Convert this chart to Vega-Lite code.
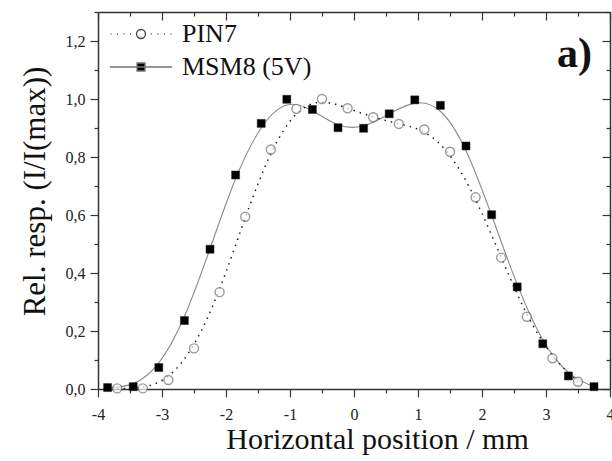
{
  "$schema": "https://vega.github.io/schema/vega-lite/v6.json",
  "width": 512,
  "height": 377,
  "autosize": {"type": "none"},
  "padding": {"left": 98, "top": 12, "right": 2, "bottom": 72},
  "background": "white",
  "config": {"view": {"stroke": null}, "font": "Liberation Serif"},
  "data": {"values": [
    {"series": "PIN7", "x": -3.7, "y": 0.002},
    {"series": "PIN7", "x": -3.3, "y": 0.002},
    {"series": "PIN7", "x": -2.9, "y": 0.031},
    {"series": "PIN7", "x": -2.5, "y": 0.140},
    {"series": "PIN7", "x": -2.1, "y": 0.334},
    {"series": "PIN7", "x": -1.7, "y": 0.594},
    {"series": "PIN7", "x": -1.3, "y": 0.826},
    {"series": "PIN7", "x": -0.9, "y": 0.966},
    {"series": "PIN7", "x": -0.5, "y": 1.0},
    {"series": "PIN7", "x": -0.1, "y": 0.968},
    {"series": "PIN7", "x": 0.3, "y": 0.937},
    {"series": "PIN7", "x": 0.7, "y": 0.914},
    {"series": "PIN7", "x": 1.1, "y": 0.895},
    {"series": "PIN7", "x": 1.5, "y": 0.818},
    {"series": "PIN7", "x": 1.9, "y": 0.661},
    {"series": "PIN7", "x": 2.3, "y": 0.453},
    {"series": "PIN7", "x": 2.7, "y": 0.249},
    {"series": "PIN7", "x": 3.1, "y": 0.106},
    {"series": "PIN7", "x": 3.5, "y": 0.025},
    {"series": "MSM8 (5V)", "x": -3.85, "y": 0.005},
    {"series": "MSM8 (5V)", "x": -3.45, "y": 0.008},
    {"series": "MSM8 (5V)", "x": -3.05, "y": 0.074},
    {"series": "MSM8 (5V)", "x": -2.65, "y": 0.236},
    {"series": "MSM8 (5V)", "x": -2.25, "y": 0.482},
    {"series": "MSM8 (5V)", "x": -1.85, "y": 0.738},
    {"series": "MSM8 (5V)", "x": -1.45, "y": 0.916},
    {"series": "MSM8 (5V)", "x": -1.05, "y": 0.999},
    {"series": "MSM8 (5V)", "x": -0.65, "y": 0.964},
    {"series": "MSM8 (5V)", "x": -0.25, "y": 0.901},
    {"series": "MSM8 (5V)", "x": 0.15, "y": 0.899},
    {"series": "MSM8 (5V)", "x": 0.55, "y": 0.949},
    {"series": "MSM8 (5V)", "x": 0.95, "y": 0.997},
    {"series": "MSM8 (5V)", "x": 1.35, "y": 0.978},
    {"series": "MSM8 (5V)", "x": 1.75, "y": 0.838},
    {"series": "MSM8 (5V)", "x": 2.15, "y": 0.601},
    {"series": "MSM8 (5V)", "x": 2.55, "y": 0.352},
    {"series": "MSM8 (5V)", "x": 2.95, "y": 0.156},
    {"series": "MSM8 (5V)", "x": 3.35, "y": 0.045},
    {"series": "MSM8 (5V)", "x": 3.75, "y": 0.008}
  ]},
  "resolve": {"axis": {"x": "independent", "y": "independent"}},
  "layer": [
    {
      "transform": [{"filter": "datum.series === 'MSM8 (5V)'"}],
      "mark": {"type": "line", "interpolate": "basis", "color": "#8a8a8a", "strokeWidth": 1.1},
      "encoding": {
        "x": {"field": "x", "type": "quantitative", "scale": {"domain": [-4, 4], "nice": false, "zero": false},
          "axis": {"orient": "bottom", "values": [-4, -3.5, -3, -2.5, -2, -1.5, -1, -0.5, 0, 0.5, 1, 1.5, 2, 2.5, 3, 3.5, 4],
            "labelExpr": "datum.value % 1 === 0 ? '' + datum.value : ''",
            "title": "Horizontal position / mm", "titleFont": "Liberation Serif", "titleFontSize": 30, "titleFontWeight": "normal", "titleColor": "#111",
            "titleX": 279, "titleY": 59, "titleBaseline": "alphabetic", "titleAlign": "center",
            "labelFont": "Liberation Serif", "labelFontSize": 16, "labelColor": "#222", "labelPadding": 9, "labelFlush": false, "labelOverlap": false, "labelBound": false,
            "grid": false, "domainColor": "#333", "domainWidth": 1.5, "tickColor": "#333", "tickWidth": 1.2,
            "tickSize": {"condition": {"test": "datum.value % 1 === 0", "value": 8}, "value": 4}}},
        "y": {"field": "y", "type": "quantitative", "scale": {"domain": [0, 1.3], "nice": false},
          "axis": {"orient": "left", "values": [0, 0.1, 0.2, 0.3, 0.4, 0.5, 0.6, 0.7, 0.8, 0.9, 1.0, 1.1, 1.2, 1.3],
            "labelExpr": "round(datum.value * 10) % 2 === 0 ? replace(format(datum.value, '.1f'), '.', ',') : ''",
            "title": "Rel. resp. (I/I(max))", "titleFont": "Liberation Serif", "titleFontSize": 31, "titleFontWeight": "normal", "titleColor": "#111",
            "titleX": -54, "titleY": 179, "titleBaseline": "alphabetic", "titleAlign": "center", "titleAngle": -90,
            "labelFont": "Liberation Serif", "labelFontSize": 16, "labelColor": "#222", "labelPadding": 5, "labelOverlap": false, "labelBound": false, "labelFlush": false,
            "grid": false, "domainColor": "#333", "domainWidth": 1.5, "tickColor": "#333", "tickWidth": 1.2,
            "tickSize": {"condition": {"test": "round(datum.value * 10) % 2 === 0", "value": 8}, "value": 4}}}
      }
    },
    {
      "transform": [{"filter": "datum.series === 'PIN7'"}],
      "mark": {"type": "line", "interpolate": "basis", "color": "#222", "strokeWidth": 1.5, "strokeDash": [1.5, 5]},
      "encoding": {
        "x": {"field": "x", "type": "quantitative",
          "axis": {"orient": "top", "values": [-4, -3.5, -3, -2.5, -2, -1.5, -1, -0.5, 0, 0.5, 1, 1.5, 2, 2.5, 3, 3.5, 4],
            "labels": false, "title": null, "grid": false, "domainColor": "#333", "domainWidth": 1.5, "tickColor": "#333", "tickWidth": 1.2,
            "tickSize": {"condition": {"test": "datum.value % 1 === 0", "value": -8}, "value": -4}}},
        "y": {"field": "y", "type": "quantitative",
          "axis": {"orient": "right", "values": [0, 0.1, 0.2, 0.3, 0.4, 0.5, 0.6, 0.7, 0.8, 0.9, 1.0, 1.1, 1.2, 1.3],
            "labels": false, "title": null, "grid": false, "domainColor": "#333", "domainWidth": 1.5, "tickColor": "#333", "tickWidth": 1.2,
            "tickSize": {"condition": {"test": "round(datum.value * 10) % 2 === 0", "value": -8}, "value": -4}}}
      }
    },
    {
      "transform": [{"filter": "datum.series === 'PIN7'"}],
      "mark": {"type": "point", "shape": "circle", "size": 81, "filled": true, "fill": "white", "stroke": "#707070", "strokeWidth": 1.4},
      "encoding": {
        "x": {"field": "x", "type": "quantitative", "axis": null},
        "y": {"field": "y", "type": "quantitative", "axis": null}
      }
    },
    {
      "transform": [{"filter": "datum.series === 'MSM8 (5V)'"}],
      "mark": {"type": "point", "shape": "square", "size": 64, "filled": true, "fill": "black", "stroke": "#222", "strokeWidth": 0.5, "opacity": 1},
      "encoding": {
        "x": {"field": "x", "type": "quantitative", "axis": null},
        "y": {"field": "y", "type": "quantitative", "axis": null}
      }
    },
    {
      "data": {"values": [{"label": "a)"}]},
      "mark": {"type": "text", "align": "right", "baseline": "alphabetic", "font": "Liberation Serif", "fontSize": 42, "fontWeight": "bold", "color": "#111"},
      "encoding": {
        "text": {"field": "label"},
        "x": {"datum": 3.72, "type": "quantitative", "axis": null},
        "y": {"datum": 1.11, "type": "quantitative", "axis": null}
      }
    },
    {
      "transform": [{"filter": "datum.series === 'none'"}],
      "mark": {"type": "point", "strokeWidth": 1.3, "opacity": 1},
      "encoding": {
        "shape": {"field": "series", "type": "nominal",
          "scale": {"domain": ["PIN7", "MSM8 (5V)"], "range": ["M-3.8,0h0.1M-2.99,0h0.1M-2.18,0h0.1M-1.37,0h0.1M1.27,0h0.1M2.08,0h0.1M2.89,0h0.1M3.7,0h0.1M0.56,0A0.56,0.56,0,1,1,-0.56,0A0.56,0.56,0,1,1,0.56,0Z", "M-3.875,0H3.875M-0.5,-0.5H0.5V0.5H-0.5Z"]},
          "legend": {"title": null, "orient": "none", "legendX": 30, "legendY": 9, "labelFont": "Liberation Serif", "labelFontSize": 26, "labelColor": "#111", "labelOffset": 28, "symbolSize": 256, "symbolStrokeWidth": 1.3, "rowPadding": 7, "padding": 0, "labelBaseline": "middle"}},
        "fill": {"field": "series", "type": "nominal",
          "scale": {"domain": ["PIN7", "MSM8 (5V)"], "range": ["white", "black"]},
          "legend": {"title": null, "orient": "none", "legendX": 30, "legendY": 9, "labelFont": "Liberation Serif", "labelFontSize": 26, "labelColor": "#111", "labelOffset": 28, "symbolSize": 256, "symbolStrokeWidth": 1.3, "rowPadding": 7, "padding": 0, "labelBaseline": "middle"}},
        "stroke": {"field": "series", "type": "nominal",
          "scale": {"domain": ["PIN7", "MSM8 (5V)"], "range": ["#444", "#777"]},
          "legend": {"title": null, "orient": "none", "legendX": 30, "legendY": 9, "labelFont": "Liberation Serif", "labelFontSize": 26, "labelColor": "#111", "labelOffset": 28, "symbolSize": 256, "symbolStrokeWidth": 1.3, "rowPadding": 7, "padding": 0, "labelBaseline": "middle"}}
      }
    }
  ]
}
